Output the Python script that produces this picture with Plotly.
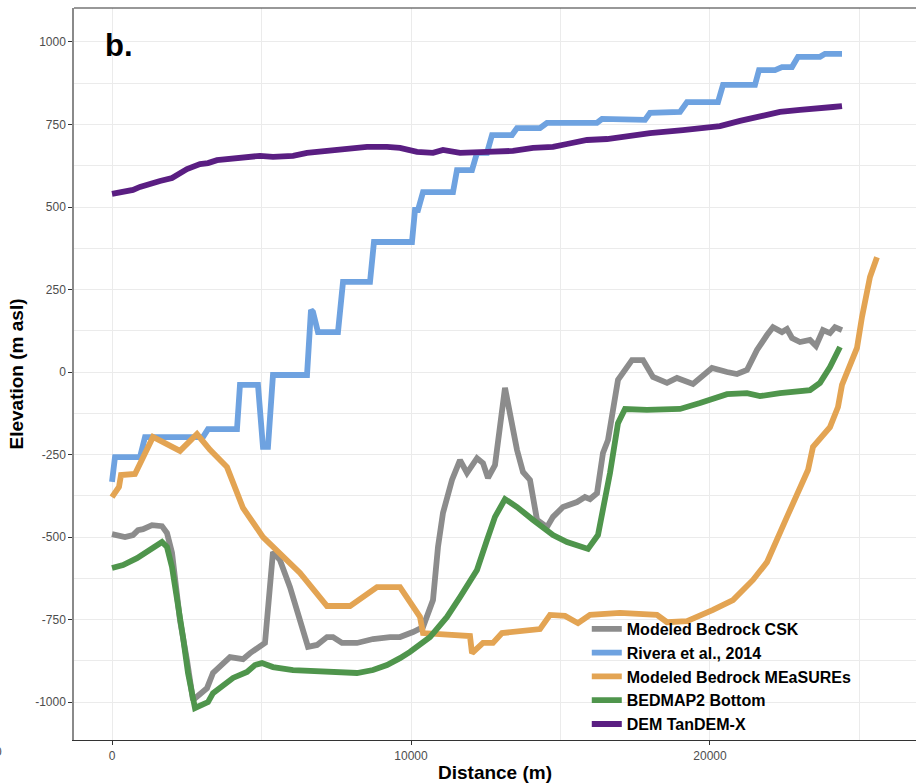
import plotly.graph_objects as go

# ---------------- data ----------------
csk_x = [0, 435, 702, 870, 1037, 1338, 1672, 1839, 2007, 2274, 2508, 2709, 3177, 3378, 3946, 4181,
         4381, 4615, 4849, 5117, 5384, 5619, 5953, 6221, 6555, 6856, 7191, 7391, 7692, 8194, 8729,
         9298, 9632, 10067, 10401, 10736, 10903, 11070, 11371, 11639, 11873, 12207, 12408, 12575,
         12809, 13144, 13545, 13746, 13980, 14214, 14548, 14749, 15084, 15552, 15819, 15987, 16221,
         16421, 16589, 16923, 17090, 17391, 17759, 18094, 18562, 18896, 19431, 19666, 20067, 20569,
         20903, 21237, 21572, 21906, 22107, 22408, 22575, 22742, 23010, 23344, 23545, 23779, 24013,
         24181, 24415]
csk_y = [-491, -500, -494, -479, -476, -464, -467, -488, -548, -752, -873, -994, -958, -912, -864, -867,
         -870, -852, -836, -821, -545, -570, -652, -730, -833, -827, -803, -803, -821, -821, -809,
         -803, -803, -788, -773, -691, -530, -427, -327, -267, -306, -261, -276, -321,
         -282, -48, -236, -303, -327, -448, -470, -439, -409, -394, -379, -385, -367,
         -245, -206, -24, 0, 36, 36, -15, -33, -18, -36, -18, 12, 0,
         -6, 6, 67, 112, 136, 121, 130, 103, 91, 97, 79, 127, 118,
         136, 127]

riv_x = [0, 100, 936, 1104, 3043, 3210, 4180, 4280, 4882, 5049, 5217, 5384, 6522, 6655, 6722, 6889,
         7558, 7726, 8629, 8762, 10033, 10134, 10234, 10401, 11405, 11538, 12040, 12207, 12542, 12709,
         13378, 13545, 14314, 14548, 16220, 16388, 17826, 17993, 18997, 19231, 20268, 20435, 21505,
         21639, 22174, 22408, 22742, 22943, 23679, 23846, 24415]
riv_y = [-333, -258, -258, -197, -197, -173, -173, -39, -39, -227, -227, -9, -9, 188, 182, 121,
         121, 273, 273, 394, 394, 491, 491, 545, 545, 612, 612, 664, 664, 718,
         718, 739, 739, 755, 755, 767, 764, 785, 788, 818, 818, 870, 870,
         915, 915, 924, 924, 955, 955, 964, 964]

mea_x = [0, 234, 301, 769, 1371, 2274, 2843, 3278, 3846, 4381, 5050, 6288, 7191, 7960, 8863, 9632,
         10301, 10401, 11973, 12040, 12408, 12742, 13043, 14314, 14649, 15151, 15585, 15987, 16990,
         18227, 18562, 19231, 20100, 20769, 21438, 21906, 22575, 23278, 23445, 24013, 24281, 24415,
         24916, 25084, 25351, 25585]
mea_y = [-379, -348, -312, -309, -197, -239, -188, -236, -288, -412, -500, -609, -709, -709, -652, -652,
         -742, -791, -800, -852, -821, -821, -791, -779, -736, -739, -761, -736, -730,
         -736, -758, -755, -721, -691, -630, -576, -439, -297, -227, -167, -106, -39,
         73, 167, 288, 348]

bed_x = [0, 368, 836, 1170, 1672, 1839, 2007, 2374, 2542, 2776, 3211, 3378, 4047, 4515, 4782, 5017,
         5384, 6054, 6722, 7391, 8194, 8729, 9197, 9632, 9967, 10635, 11204, 11639, 12207, 12542,
         12809, 13144, 13545, 14080, 14749, 15217, 15920, 16254, 16656, 16923, 17157, 17893, 18997,
         19666, 20100, 20569, 21237, 21672, 22341, 23344, 23679, 24013, 24348]
bed_y = [-594, -585, -564, -545, -515, -530, -591, -803, -912, -1018, -1000, -973, -927, -909, -888, -882,
         -894, -903, -906, -909, -912, -903, -888, -867, -848, -803, -742, -682, -600, -509,
         -439, -385, -409, -448, -494, -515, -536, -494, -306, -155, -112, -115, -112,
         -94, -79, -67, -64, -73, -64, -55, -33, 15, 76]

dem_x = [0, 702, 936, 1371, 1605, 2007, 2508, 2943, 3211, 3512, 4047, 4950, 5385, 6054, 6522, 6957,
         7726, 8528, 9197, 9632, 10201, 10736, 11070, 11639, 12542, 13411, 14080, 14749, 15217, 15886,
         16555, 16990, 17425, 17993, 19097, 19900, 20334, 21003, 21572, 22341, 23010, 23579, 24114,
         24415]
dem_y = [540, 552, 561, 570, 579, 588, 615, 630, 633, 642, 648, 655, 652, 655, 664, 667,
         673, 682, 682, 679, 667, 664, 673, 664, 667, 670, 679, 682, 691, 703,
         706, 712, 718, 724, 733, 739, 745, 761, 773, 788, 794, 797, 803,
         806]

series = [
    ("Modeled Bedrock CSK", csk_x, csk_y, "#8C8C8C"),
    ("Rivera et al., 2014", riv_x, riv_y, "#6EA2E0"),
    ("Modeled Bedrock MEaSUREs", mea_x, mea_y, "#E3A453"),
    ("BEDMAP2 Bottom", bed_x, bed_y, "#4F954C"),
    ("DEM TanDEM-X", dem_x, dem_y, "#5A1E82"),
]

x_ticks = [0, 10000, 20000]
y_ticks = [-1000, -750, -500, -250, 0, 250, 500, 750, 1000]

# ---------------- figure ----------------
fig = go.Figure()
for name, xs, ys, col in series:
    fig.add_trace(go.Scatter(x=xs, y=ys, mode="lines", name=name,
                             line=dict(color=col, width=5.8)))

grid = "#EBEBEB"
tick_font = dict(family="Liberation Sans, Arial, sans-serif", size=12, color="#4D4D4D")
title_font = dict(family="Liberation Sans, Arial, sans-serif", size=19, color="black", weight="bold")

fig.update_layout(
    width=916, height=783,
    margin=dict(l=74, r=0, t=8, b=43),
    paper_bgcolor="white", plot_bgcolor="white",
    showlegend=True,
    legend=dict(x=0.609, y=0.175, xanchor="left", yanchor="top",
                bgcolor="rgba(255,255,255,0)", borderwidth=0, itemwidth=30, tracegroupgap=0,
                font=dict(family="Liberation Sans, Arial, sans-serif", size=16,
                          color="black", weight="bold")),
    xaxis=dict(range=[-1271, 26890], tickmode="array", tickvals=x_ticks,
               ticktext=[str(v) for v in x_ticks],
               showgrid=True, gridcolor=grid, gridwidth=1.3,
               minor=dict(tickmode="array", tickvals=[5000, 15000, 25000],
                          showgrid=True, gridcolor=grid, gridwidth=0.8),
               zeroline=False, showline=True, linecolor="#333333", linewidth=1.2,
               ticks="outside", ticklen=4, tickcolor="#333333",
               tickfont=tick_font,
               title=dict(text="Distance (m)", font=title_font, standoff=4)),
    yaxis=dict(range=[-1115, 1103], tickmode="array", tickvals=y_ticks,
               ticktext=[str(v) for v in y_ticks],
               showgrid=True, gridcolor=grid, gridwidth=1.3,
               minor=dict(tickmode="array",
                          tickvals=[-875, -625, -375, -125, 125, 375, 625, 875],
                          showgrid=True, gridcolor=grid, gridwidth=0.8),
               zeroline=False, showline=True, linecolor="#8A8A8A", linewidth=1.5,
               ticks="outside", ticklen=4, tickcolor="#333333",
               tickfont=tick_font,
               title=dict(text="Elevation (m asl)", font=title_font, standoff=6)),
    shapes=[
        dict(type="line", xref="paper", yref="paper", x0=0, x1=1, y0=1, y1=1,
             line=dict(color="#333333", width=1.2)),
        # legend background: above gridlines, below the lines
        dict(type="rect", xref="paper", yref="paper", layer="between",
             x0=0.619, x1=0.925, y0=0.002, y1=0.164,
             fillcolor="white", line=dict(width=0)),
    ],
    annotations=[
        dict(text="b.", xref="paper", yref="paper", x=0.034, y=0.975,
             xanchor="left", yanchor="top", showarrow=False,
             font=dict(family="Liberation Sans, Arial, sans-serif", size=31,
                       color="black", weight="bold")),
        dict(text="0", xref="paper", yref="paper", x=-0.0835, y=-0.0165,
             xanchor="right", yanchor="middle", showarrow=False,
             font=tick_font),
    ],
)

fig.write_html("out.html")
